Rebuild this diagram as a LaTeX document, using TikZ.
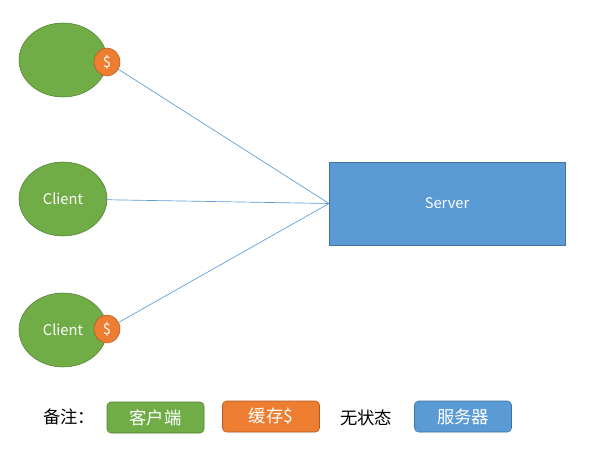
\documentclass[tikz,border=0pt]{standalone}
\usepackage{fontspec}
\setmainfont{Noto Sans CJK SC}
\usetikzlibrary{shapes.geometric}

\definecolor{clientgreen}{HTML}{70AD47}
\definecolor{clientedge}{HTML}{507E32}
\definecolor{cacheorange}{HTML}{ED7D31}
\definecolor{cacheedge}{HTML}{AE5A21}
\definecolor{serverblue}{HTML}{5B9BD5}
\definecolor{serveredge}{HTML}{41719C}

\begin{document}
\begin{tikzpicture}[x=0.75pt, y=-0.75pt, inner sep=0pt, outer sep=0pt,
	client/.style={ellipse, draw=clientedge, fill=clientgreen, text=white, minimum width=66pt, minimum height=55.5pt, font=\fontsize{11}{13}\selectfont},
	cache/.style={ellipse, draw=cacheedge, fill=cacheorange, text=white, minimum width=19.5pt, minimum height=21pt, font=\fontsize{11}{13}\selectfont},
	server/.style={rectangle, draw=serveredge, fill=serverblue, text=white, minimum width=177pt, minimum height=62.25pt, font=\fontsize{11}{13}\selectfont},
	legendbox/.style={rectangle, rounded corners=3pt, minimum width=72.75pt, minimum height=23.25pt, text=white, font=\fontsize{13}{15}\selectfont},
	legendtext/.style={font=\fontsize{13}{15}\selectfont},
	link/.style={draw=serverblue, line width=0.5pt}]

	\useasboundingbox (0, 0) rectangle (603, 456);

	% clients
	\node[client] (client1) at (63, 60) {};
	\node[cache] (cache1) at (107, 62) {\$};
	\node[client] (client2) at (63, 199) {Client};
	\node[client] (client3) at (63, 330) {Client};
	\node[cache] (cache3) at (107, 329) {\$};

	% server
	\node[server] (server) at (447, 203.5) {Server};

	% links
	\draw[link] (cache1) -- (server.west);
	\draw[link] (client2) -- (server.west);
	\draw[link] (cache3) -- (server.west);

	% legend
	\node[legendtext] (note) at (69, 417) {备注：};
	\node[legendbox, draw=clientedge, fill=clientgreen] (legclient) at (155.5, 417.5) {客户端};
	\node[legendbox, draw=cacheedge, fill=cacheorange] (legcache) at (271, 416.5) {缓存\$};
	\node[legendtext] (stateless) at (366, 418) {无状态};
	\node[legendbox, draw=serveredge, fill=serverblue] (legserver) at (463, 416.5) {服务器};
\end{tikzpicture}
\end{document}
